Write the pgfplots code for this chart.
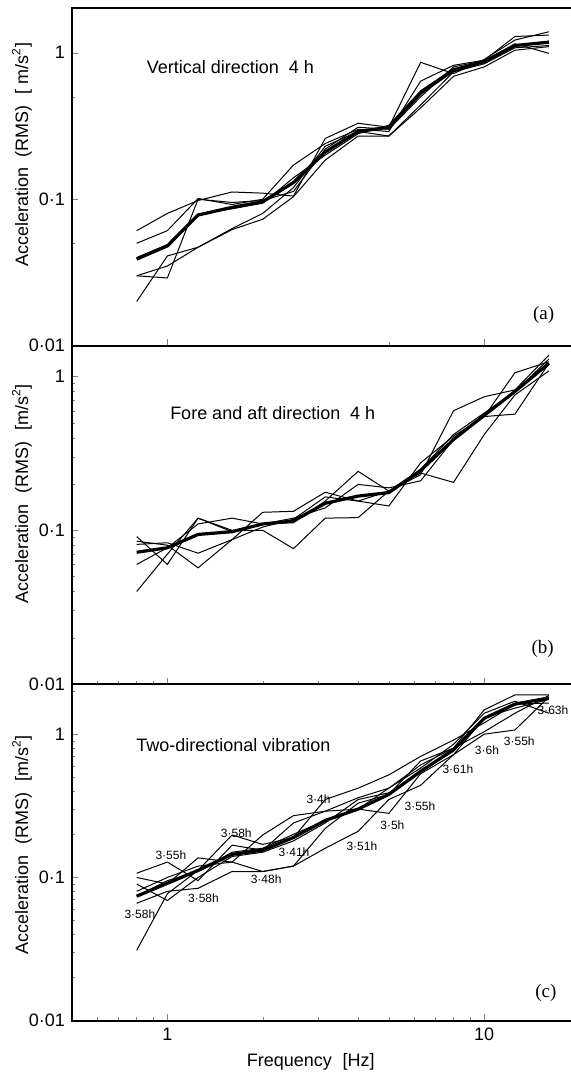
\documentclass[border=0pt]{standalone}
\usepackage{pgfplots}
\pgfplotsset{compat=1.18}
\usepackage{pgfplotstable}
\usepackage{fontspec}
\setmainfont{Liberation Sans}
\newfontfamily\seriffont{Liberation Serif}

\pgfplotstableread{
f    m     s1    s2    s3    s4    s5    s6
0.8  0.039 0.061 0.050 0.030 0.020 0.030 0.040
1    0.048 0.080 0.061 0.029 0.041 0.035 0.049
1.25 0.078 0.098 0.101 0.100 0.047 0.047 0.079
1.6  0.088 0.112 0.092 0.095 0.062 0.063 0.086
2    0.096 0.110 0.100 0.098 0.073 0.080 0.094
2.5  0.130 0.105 0.171 0.113 0.104 0.120 0.140
3.15 0.210 0.260 0.240 0.220 0.185 0.230 0.200
4    0.290 0.330 0.300 0.310 0.270 0.290 0.280
5    0.310 0.310 0.290 0.300 0.270 0.270 0.320
6.3  0.530 0.860 0.640 0.500 0.420 0.440 0.550
8    0.760 0.720 0.820 0.800 0.690 0.740 0.780
10   0.870 0.900 0.890 0.880 0.800 0.840 0.860
12.5 1.120 1.220 1.290 1.150 1.040 1.080 1.100
16   1.180 1.390 1.320 0.990 1.100 1.120 1.200
}\tabA

\pgfplotstableread{
f    m     s1    s2    s3    s4    s5
0.8  0.072 0.091 0.081 0.060 0.040 0.085
1    0.077 0.060 0.083 0.077 0.070 0.080
1.25 0.094 0.120 0.071 0.110 0.120 0.057
1.6  0.098 0.100 0.087 0.120 0.098 0.087
2    0.110 0.100 0.131 0.110 0.110 0.105
2.5  0.115 0.076 0.133 0.112 0.120 0.118
3.15 0.150 0.120 0.177 0.155 0.140 0.165
4    0.167 0.121 0.155 0.242 0.199 0.155
5    0.176 0.180 0.144 0.180 0.189 0.180
6.3  0.245 0.230 0.275 0.236 0.210 0.250
8    0.390 0.600 0.410 0.205 0.390 0.420
10   0.560 0.740 0.550 0.420 0.550 0.580
12.5 0.800 0.820 1.060 0.760 0.570 0.800
16   1.220 1.380 1.250 1.090 1.220 1.300
}\tabB

\pgfplotstableread{
f    m     s1    s2    s3    s4    s5    s6    s7
0.8  0.074 0.107 0.100 0.066 0.031 0.080 0.074 0.090
1    0.091 0.128 0.090 0.080 0.077 0.100 0.095 0.069
1.25 0.112 0.095 0.137 0.084 0.112 0.120 0.110 0.100
1.6  0.145 0.168 0.128 0.110 0.198 0.128 0.150 0.140
2    0.155 0.155 0.198 0.110 0.170 0.110 0.160 0.150
2.5  0.190 0.240 0.270 0.120 0.190 0.120 0.200 0.180
3.15 0.250 0.290 0.290 0.160 0.350 0.220 0.250 0.240
4    0.300 0.360 0.300 0.210 0.420 0.330 0.300 0.350
5    0.380 0.420 0.280 0.350 0.520 0.380 0.420 0.390
6.3  0.550 0.610 0.530 0.440 0.700 0.650 0.580 0.550
8    0.780 0.800 0.720 0.720 0.910 0.800 0.850 0.760
10   1.290 1.480 1.290 1.000 1.200 1.040 1.400 1.310
12.5 1.620 1.880 1.650 1.070 1.620 1.400 1.700 1.520
16   1.790 1.880 1.800 1.820 1.650 1.860 1.400 1.750
}\tabC

\begin{document}
\begin{tikzpicture}
\useasboundingbox (0,0) rectangle (285.5pt,536pt);

% Panel (a)
\begin{axis}[
  xmode=log, ymode=log,
  scale only axis, width=253.8pt, height=168.7pt,
  at={(36pt,363.15pt)}, anchor=south west,
  xmin=0.5, xmax=20, ymin=0.01, ymax=2.01,
  tick pos=left, tick align=inside,
  axis line style={line width=1pt},
  major tick length=3.2pt, minor tick length=1.7pt,
  xtick={1,10}, xticklabels={},
  minor xtick={5},
  ytick={0.01,0.1,1}, yticklabels={0·01,0·1,1},
  minor ytick={0.05,0.5},
  tick label style={font=\fontsize{9}{10}\selectfont},
  ylabel={Acceleration\hspace{0.6em}(RMS)\hspace{0.6em}[ m/s\textsuperscript{2}]},
  ylabel style={font=\fontsize{9}{10}\selectfont, at={(axis description cs:-0.0985,0.566)}, anchor=center}]
\addplot[black, line width=0.5pt, mark=none] table[x=f,y=s1]{\tabA};
\addplot[black, line width=0.5pt, mark=none] table[x=f,y=s2]{\tabA};
\addplot[black, line width=0.5pt, mark=none] table[x=f,y=s3]{\tabA};
\addplot[black, line width=0.5pt, mark=none] table[x=f,y=s4]{\tabA};
\addplot[black, line width=0.5pt, mark=none] table[x=f,y=s5]{\tabA};
\addplot[black, line width=0.5pt, mark=none] table[x=f,y=s6]{\tabA};
\addplot[black, line width=1.6pt, mark=none] table[x=f,y=m]{\tabA};
\node[anchor=west, font=\fontsize{9}{10}\selectfont] at (axis cs:0.819,0.80) {Vertical direction\hspace{0.55em}4 h};
\node[font=\seriffont\fontsize{9.5}{10}\selectfont] at (axis cs:15.4,0.0162) {(a)};
\end{axis}

% Panel (b)
\begin{axis}[
  xmode=log, ymode=log,
  scale only axis, width=253.8pt, height=169.15pt,
  at={(36pt,194pt)}, anchor=south west,
  xmin=0.5, xmax=20, ymin=0.01, ymax=1.59,
  tick pos=left, tick align=inside,
  axis line style={line width=1pt},
  major tick length=3.2pt, minor tick length=1.7pt,
  xtick={1,10}, xticklabels={},
  minor xtick={0.6,0.7,0.8,0.9,2,3,4,5,6,7,8,9},
  ytick={0.01,0.1,1}, yticklabels={0·01,0·1,1},
  minor ytick={0.02,0.03,0.04,0.05,0.06,0.07,0.08,0.09,0.2,0.3,0.4,0.5,0.6,0.7,0.8,0.9},
  tick label style={font=\fontsize{9}{10}\selectfont},
  ylabel={Acceleration\hspace{0.6em}(RMS)\hspace{0.6em}[m/s\textsuperscript{2}]},
  ylabel style={font=\fontsize{9}{10}\selectfont, at={(axis description cs:-0.0985,0.562)}, anchor=center}]
\addplot[black, line width=0.5pt, mark=none] table[x=f,y=s1]{\tabB};
\addplot[black, line width=0.5pt, mark=none] table[x=f,y=s2]{\tabB};
\addplot[black, line width=0.5pt, mark=none] table[x=f,y=s3]{\tabB};
\addplot[black, line width=0.5pt, mark=none] table[x=f,y=s4]{\tabB};
\addplot[black, line width=0.5pt, mark=none] table[x=f,y=s5]{\tabB};
\addplot[black, line width=1.6pt, mark=none] table[x=f,y=m]{\tabB};
\node[anchor=west, font=\fontsize{9}{10}\selectfont] at (axis cs:0.97,0.58) {Fore and aft direction\hspace{0.55em}4 h};
\node[font=\seriffont\fontsize{9.5}{10}\selectfont] at (axis cs:15.3,0.0169) {(b)};
\end{axis}

% Panel (c)
\begin{axis}[
  xmode=log, ymode=log,
  scale only axis, width=253.8pt, height=168.35pt,
  at={(36pt,25.65pt)}, anchor=south west,
  xmin=0.5, xmax=20, ymin=0.01, ymax=2.24,
  tick pos=left, tick align=inside,
  axis line style={line width=1pt},
  major tick length=3.2pt, minor tick length=1.7pt,
  xtick={1,10}, xticklabels={1,10},
  minor xtick={0.6,0.7,0.8,0.9,2,3,4,5,6,7,8,9},
  ytick={0.01,0.1,1}, yticklabels={0·01,0·1,1},
  minor ytick={0.02,0.03,0.04,0.05,0.06,0.07,0.08,0.09,0.2,0.3,0.4,0.5,0.6,0.7,0.8,0.9,2},
  tick label style={font=\fontsize{9}{10}\selectfont},
  xlabel={Frequency\hspace{0.6em}[Hz]},
  xlabel style={font=\fontsize{9}{10}\selectfont, at={(axis description cs:0.4703,0)}, anchor=center, yshift=-20.6pt},
  ylabel={Acceleration\hspace{0.6em}(RMS)\hspace{0.6em}[m/s\textsuperscript{2}]},
  ylabel style={font=\fontsize{9}{10}\selectfont, at={(axis description cs:-0.0985,0.522)}, anchor=center}]
\addplot[black, line width=0.5pt, mark=none] table[x=f,y=s1]{\tabC};
\addplot[black, line width=0.5pt, mark=none] table[x=f,y=s2]{\tabC};
\addplot[black, line width=0.5pt, mark=none] table[x=f,y=s3]{\tabC};
\addplot[black, line width=0.5pt, mark=none] table[x=f,y=s4]{\tabC};
\addplot[black, line width=0.5pt, mark=none] table[x=f,y=s5]{\tabC};
\addplot[black, line width=0.5pt, mark=none] table[x=f,y=s6]{\tabC};
\addplot[black, line width=0.5pt, mark=none] table[x=f,y=s7]{\tabC};
\addplot[black, line width=1.6pt, mark=none] table[x=f,y=m]{\tabC};
\node[anchor=west, font=\fontsize{9}{10}\selectfont] at (axis cs:0.758,0.842) {Two-directional vibration};
\node[font=\seriffont\fontsize{9.5}{10}\selectfont] at (axis cs:15.66,0.0156) {(c)};
\node[font=\fontsize{6}{7}\selectfont] at (axis cs:0.819,0.0555) {3·58h};
\node[font=\fontsize{6}{7}\selectfont] at (axis cs:1.026,0.142) {3·55h};
\node[font=\fontsize{6}{7}\selectfont] at (axis cs:1.30,0.0716) {3·58h};
\node[font=\fontsize{6}{7}\selectfont] at (axis cs:1.65,0.204) {3·58h};
\node[font=\fontsize{6}{7}\selectfont] at (axis cs:2.05,0.0973) {3·48h};
\node[font=\fontsize{6}{7}\selectfont] at (axis cs:2.51,0.150) {3·41h};
\node[font=\fontsize{6}{7}\selectfont] at (axis cs:3.0,0.353) {3·4h};
\node[font=\fontsize{6}{7}\selectfont] at (axis cs:4.11,0.164) {3·51h};
\node[font=\fontsize{6}{7}\selectfont] at (axis cs:5.13,0.232) {3·5h};
\node[font=\fontsize{6}{7}\selectfont] at (axis cs:6.27,0.316) {3·55h};
\node[font=\fontsize{6}{7}\selectfont] at (axis cs:8.26,0.572) {3·61h};
\node[font=\fontsize{6}{7}\selectfont] at (axis cs:10.2,0.776) {3·6h};
\node[font=\fontsize{6}{7}\selectfont] at (axis cs:12.9,0.888) {3·55h};
\node[font=\fontsize{6}{7}\selectfont, anchor=east, inner xsep=1pt] at (axis cs:18.75,1.48) {3·63h};
\end{axis}
\end{tikzpicture}
\end{document}
